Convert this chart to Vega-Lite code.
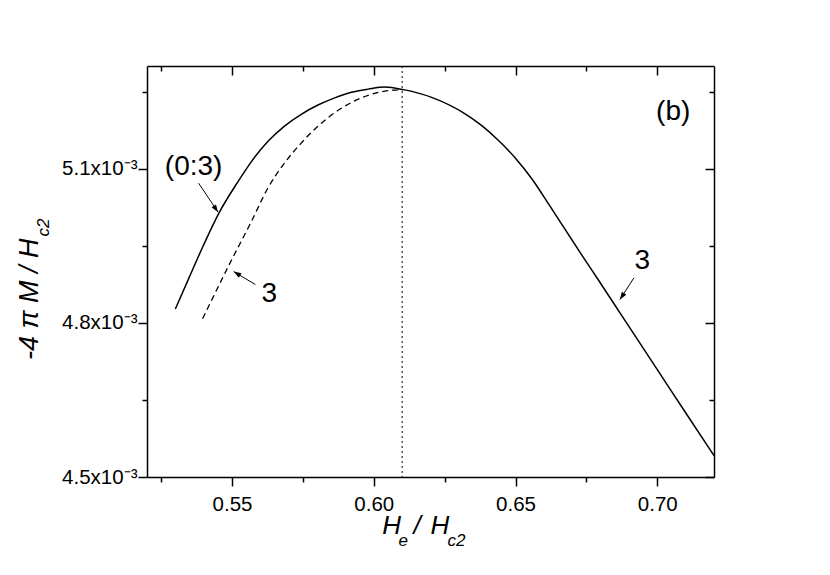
{
  "$schema": "https://vega.github.io/schema/vega-lite/v6.json",
  "width": 567,
  "height": 411,
  "autosize": {"type": "none"},
  "padding": {"left": 147, "top": 66, "right": 116, "bottom": 98},
  "background": "white",
  "config": {
    "view": {"stroke": null},
    "font": "Liberation Sans",
    "axis": {"domainColor": "black", "domainWidth": 1.5, "tickColor": "black", "tickWidth": 1.5, "grid": false, "labelFont": "Liberation Sans", "labelFontSize": 20.5, "labelColor": "black", "labelOverlap": false, "labelFlush": false, "labelBound": false}
  },
  "datasets": {
    "solid": [
      {"h": 0.530, "m": 0.004827}, {"h": 0.535, "m": 0.004890}, {"h": 0.540, "m": 0.004952},
      {"h": 0.5455, "m": 0.005015}, {"h": 0.552, "m": 0.005074}, {"h": 0.5567, "m": 0.005113},
      {"h": 0.5626, "m": 0.005153}, {"h": 0.5685, "m": 0.005183}, {"h": 0.5744, "m": 0.005206},
      {"h": 0.5803, "m": 0.005224}, {"h": 0.5862, "m": 0.005238}, {"h": 0.5921, "m": 0.005249},
      {"h": 0.598, "m": 0.005255}, {"h": 0.6039, "m": 0.005259}, {"h": 0.6104, "m": 0.005254},
      {"h": 0.6204, "m": 0.005239}, {"h": 0.6322, "m": 0.005207}, {"h": 0.6381, "m": 0.005184},
      {"h": 0.644, "m": 0.005155}, {"h": 0.6499, "m": 0.005121}, {"h": 0.6558, "m": 0.005080},
      {"h": 0.6617, "m": 0.005031}, {"h": 0.6676, "m": 0.004981}, {"h": 0.6735, "m": 0.004931},
      {"h": 0.6794, "m": 0.004882}, {"h": 0.6877, "m": 0.004812}, {"h": 0.700, "m": 0.004709},
      {"h": 0.710, "m": 0.004625}, {"h": 0.720, "m": 0.0045415}
    ],
    "dashed": [
      {"h": 0.5396, "m": 0.004808}, {"h": 0.5496, "m": 0.004920}, {"h": 0.5567, "m": 0.004996},
      {"h": 0.5626, "m": 0.005062}, {"h": 0.5685, "m": 0.005111}, {"h": 0.5744, "m": 0.005150},
      {"h": 0.5803, "m": 0.005183}, {"h": 0.5862, "m": 0.005209}, {"h": 0.5921, "m": 0.005229},
      {"h": 0.598, "m": 0.005243}, {"h": 0.6039, "m": 0.005251}, {"h": 0.6104, "m": 0.005254}
    ],
    "arrows": [
      {"id": "a", "x1": 0.53821, "y1": 0.0050719, "x2": 0.54506, "y2": 0.0050155},
      {"id": "b", "x1": 0.55823, "y1": 0.0048746, "x2": 0.55057, "y2": 0.0048999},
      {"id": "c", "x1": 0.69176, "y1": 0.0048876, "x2": 0.68682, "y2": 0.0048454}
    ],
    "notes": [
      {"h": 0.53645, "m": 0.0051031, "t": "(0:3)"},
      {"h": 0.5631, "m": 0.0048565, "t": "3"},
      {"h": 0.69473, "m": 0.0049198, "t": "3"},
      {"h": 0.7056, "m": 0.0052103, "t": "(b)"}
    ],
    "xtitle_main": [
      {"h": 0.60295, "m": 0.0043895, "t": "H"},
      {"h": 0.61400, "m": 0.0043895, "t": "/"},
      {"h": 0.62000, "m": 0.0043895, "t": "H"}
    ],
    "xtitle_sub": [
      {"h": 0.60871, "m": 0.0043661, "t": "e"},
      {"h": 0.62600, "m": 0.0043661, "t": "c2"}
    ],
    "ytitle_main": [{"h": 0.48146, "m": 0.0049642, "t": "-4 π M / H"}],
    "ytitle_sub": [{"h": 0.48551, "m": 0.0049681, "t": "c2"}]
  },
  "layer": [
    {
      "data": {"name": "solid"},
      "mark": {"type": "line", "color": "black", "strokeWidth": 1.5, "interpolate": "monotone"},
      "encoding": {
        "x": {"field": "h", "type": "quantitative", "scale": {"domain": [0.52, 0.72], "nice": false, "zero": false},
          "axis": {"orient": "bottom", "title": null, "values": [0.525, 0.55, 0.575, 0.6, 0.625, 0.65, 0.675, 0.7],
            "tickSize": {"condition": {"test": "abs(datum.value*20 - round(datum.value*20)) < 0.01", "value": 9}, "value": 5},
            "labelExpr": "abs(datum.value*20 - round(datum.value*20)) < 0.01 ? format(datum.value, '.2f') : ''",
            "labelFontSize": 20.5, "labelPadding": 8}},
        "y": {"field": "m", "type": "quantitative", "scale": {"domain": [0.0045, 0.0053], "nice": false, "zero": false},
          "axis": {"orient": "left", "title": null, "values": [0.0045, 0.00465, 0.0048, 0.00495, 0.0051, 0.00525],
            "tickSize": {"condition": {"test": "abs(datum.value/0.0003 - round(datum.value/0.0003)) < 0.01", "value": 9}, "value": 5},
            "labelExpr": "abs(datum.value/0.0003 - round(datum.value/0.0003)) < 0.01 ? format(datum.value*1000, '.1f') + 'x10⁻³' : ''",
            "labelFontSize": 20.5, "labelPadding": 1}}
      }
    },
    {
      "data": {"name": "dashed"},
      "mark": {"type": "line", "color": "black", "strokeWidth": 1.3, "strokeDash": [6, 4], "interpolate": "monotone"},
      "encoding": {
        "x": {"field": "h", "type": "quantitative", "scale": {"domain": [0.52, 0.72], "nice": false, "zero": false},
          "axis": {"orient": "top", "title": null, "labels": false, "values": [0.525, 0.55, 0.575, 0.6, 0.625, 0.65, 0.675, 0.7],
            "tickSize": {"condition": {"test": "abs(datum.value*20 - round(datum.value*20)) < 0.01", "value": -9}, "value": -5}}},
        "y": {"field": "m", "type": "quantitative", "scale": {"domain": [0.0045, 0.0053], "nice": false, "zero": false},
          "axis": {"orient": "right", "title": null, "labels": false, "values": [0.0045, 0.00465, 0.0048, 0.00495, 0.0051, 0.00525],
            "tickSize": {"condition": {"test": "abs(datum.value/0.0003 - round(datum.value/0.0003)) < 0.01", "value": -9}, "value": -5}}}
      }
    },
    {
      "data": {"values": [{"h": 0.61}]},
      "mark": {"type": "rule", "color": "black", "strokeWidth": 1, "strokeDash": [2, 3]},
      "encoding": {
        "x": {"field": "h", "type": "quantitative", "scale": {"domain": [0.52, 0.72], "nice": false, "zero": false}, "axis": null}
      }
    },
    {
      "data": {"name": "arrows"},
      "mark": {"type": "rule", "color": "black", "strokeWidth": 1},
      "encoding": {
        "x": {"field": "x1", "type": "quantitative", "scale": {"domain": [0.52, 0.72], "nice": false, "zero": false}, "axis": null},
        "y": {"field": "y1", "type": "quantitative", "scale": {"domain": [0.0045, 0.0053], "nice": false, "zero": false}, "axis": null},
        "x2": {"field": "x2"},
        "y2": {"field": "y2"}
      }
    },
    {
      "data": {"name": "arrows"},
      "transform": [{"filter": "datum.id == 'a'"}],
      "mark": {"type": "point", "shape": "M0,0L-0.35,1L0.35,1Z", "filled": true, "color": "black", "opacity": 1, "size": 230, "angle": 146},
      "encoding": {
        "x": {"field": "x2", "type": "quantitative", "scale": {"domain": [0.52, 0.72], "nice": false, "zero": false}, "axis": null},
        "y": {"field": "y2", "type": "quantitative", "scale": {"domain": [0.0045, 0.0053], "nice": false, "zero": false}, "axis": null}
      }
    },
    {
      "data": {"name": "arrows"},
      "transform": [{"filter": "datum.id == 'b'"}],
      "mark": {"type": "point", "shape": "M0,0L-0.35,1L0.35,1Z", "filled": true, "color": "black", "opacity": 1, "size": 230, "angle": 301},
      "encoding": {
        "x": {"field": "x2", "type": "quantitative", "scale": {"domain": [0.52, 0.72], "nice": false, "zero": false}, "axis": null},
        "y": {"field": "y2", "type": "quantitative", "scale": {"domain": [0.0045, 0.0053], "nice": false, "zero": false}, "axis": null}
      }
    },
    {
      "data": {"name": "arrows"},
      "transform": [{"filter": "datum.id == 'c'"}],
      "mark": {"type": "point", "shape": "M0,0L-0.35,1L0.35,1Z", "filled": true, "color": "black", "opacity": 1, "size": 230, "angle": 213},
      "encoding": {
        "x": {"field": "x2", "type": "quantitative", "scale": {"domain": [0.52, 0.72], "nice": false, "zero": false}, "axis": null},
        "y": {"field": "y2", "type": "quantitative", "scale": {"domain": [0.0045, 0.0053], "nice": false, "zero": false}, "axis": null}
      }
    },
    {
      "data": {"name": "notes"},
      "mark": {"type": "text", "font": "Liberation Sans", "fontSize": 28, "color": "black", "align": "center", "baseline": "middle"},
      "encoding": {
        "x": {"field": "h", "type": "quantitative", "scale": {"domain": [0.52, 0.72], "nice": false, "zero": false}, "axis": null},
        "y": {"field": "m", "type": "quantitative", "scale": {"domain": [0.0045, 0.0053], "nice": false, "zero": false}, "axis": null},
        "text": {"field": "t"}
      }
    },
    {
      "data": {"name": "xtitle_main"},
      "mark": {"type": "text", "font": "Liberation Sans", "fontSize": 26, "fontStyle": "italic", "color": "black", "align": "left", "baseline": "alphabetic"},
      "encoding": {
        "x": {"field": "h", "type": "quantitative", "scale": {"domain": [0.52, 0.72], "nice": false, "zero": false}, "axis": null},
        "y": {"field": "m", "type": "quantitative", "scale": {"domain": [0.0045, 0.0053], "nice": false, "zero": false}, "axis": null},
        "text": {"field": "t"}
      }
    },
    {
      "data": {"name": "xtitle_sub"},
      "mark": {"type": "text", "font": "Liberation Sans", "fontSize": 17, "fontStyle": "italic", "color": "black", "align": "left", "baseline": "alphabetic"},
      "encoding": {
        "x": {"field": "h", "type": "quantitative", "scale": {"domain": [0.52, 0.72], "nice": false, "zero": false}, "axis": null},
        "y": {"field": "m", "type": "quantitative", "scale": {"domain": [0.0045, 0.0053], "nice": false, "zero": false}, "axis": null},
        "text": {"field": "t"}
      }
    },
    {
      "data": {"name": "ytitle_main"},
      "mark": {"type": "text", "font": "Liberation Sans", "fontSize": 27, "fontStyle": "italic", "color": "black", "align": "right", "baseline": "alphabetic", "angle": 270},
      "encoding": {
        "x": {"field": "h", "type": "quantitative", "scale": {"domain": [0.52, 0.72], "nice": false, "zero": false}, "axis": null},
        "y": {"field": "m", "type": "quantitative", "scale": {"domain": [0.0045, 0.0053], "nice": false, "zero": false}, "axis": null},
        "text": {"field": "t"}
      }
    },
    {
      "data": {"name": "ytitle_sub"},
      "mark": {"type": "text", "font": "Liberation Sans", "fontSize": 17, "fontStyle": "italic", "color": "black", "align": "left", "baseline": "alphabetic", "angle": 270},
      "encoding": {
        "x": {"field": "h", "type": "quantitative", "scale": {"domain": [0.52, 0.72], "nice": false, "zero": false}, "axis": null},
        "y": {"field": "m", "type": "quantitative", "scale": {"domain": [0.0045, 0.0053], "nice": false, "zero": false}, "axis": null},
        "text": {"field": "t"}
      }
    }
  ],
  "resolve": {"axis": {"x": "independent", "y": "independent"}}
}
